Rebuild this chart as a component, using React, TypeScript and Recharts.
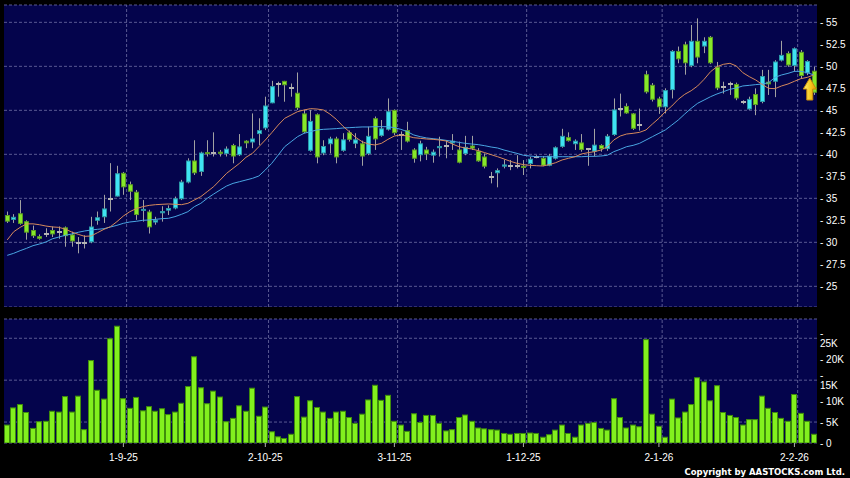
import React from 'react';
import {
  ComposedChart,
  Bar,
  Line,
  XAxis,
  YAxis,
  CartesianGrid,
  ReferenceLine,
  ReferenceDot,
} from 'recharts';

// daily candles, 6 Aug 2025 .. 5 Feb 2026
const opens = [
  33.1, 32.55, 33.3, 32.4, 31.4, 30.7, 31.0, 31.4, 31.2, 31.7,
  30.9, 29.9, 29.9, 30.0, 32.45, 32.85, 34.9, 35.2, 37.9, 36.6,
  35.75, 33.6, 33.5, 32.25, 33.3, 33.6, 33.85, 34.9, 36.8, 39.3,
  38.0, 40.25, 40.15, 40.3, 40.05, 41.05, 39.9, 41.55, 41.35, 42.3,
  42.95, 45.8, 48.0, 48.35, 47.5, 47.0, 44.65, 40.4, 44.55, 40.1,
  41.15, 41.8, 40.4, 42.5, 41.2, 41.25, 40.05, 44.1, 42.1, 42.8,
  45.05, 42.2, 42.75, 40.55, 39.9, 40.55, 39.85, 40.7, 41.0, 41.25,
  40.55, 40.05, 41.0, 40.4, 39.75, 37.4, 37.85, 38.6, 38.7, 38.7,
  38.7, 38.9, 39.7, 39.6, 38.7, 39.5, 40.85, 41.95, 41.15, 41.35,
  40.55, 40.3, 41.05, 40.6, 42.2, 45.1, 45.5, 44.65, 43.3, 49.1,
  47.9, 46.35, 45.35, 47.3, 51.75, 52.5, 50.05, 52.9, 52.25, 53.35,
  49.95, 47.6, 48.0, 48.0, 45.9, 45.1, 46.85, 45.95, 48.25, 48.25,
  50.65, 51.5, 50.05, 51.65, 49.2, 49.5,
];
const highs = [
  33.5, 33.2, 34.8, 32.5, 31.9, 30.9, 31.6, 31.8, 31.8, 31.8,
  31.2, 30.6, 30.8, 32.9, 33.5, 35.4, 39.0, 38.7, 38.0, 36.9,
  35.95, 34.8, 33.7, 32.9, 34.1, 34.2, 35.2, 37.1, 39.55, 41.6,
  40.3, 41.6, 42.5, 40.5, 40.9, 41.2, 42.3, 41.6, 44.65, 44.1,
  46.55, 48.35, 48.25, 48.35, 48.05, 49.3, 45.05, 45.05, 44.65, 41.6,
  42.0, 42.0, 42.4, 42.7, 42.4, 41.55, 43.15, 44.3, 43.9, 46.35,
  45.1, 42.6, 43.7, 40.7, 41.55, 40.85, 40.55, 42.0, 41.6, 42.3,
  41.45, 42.1, 42.1, 40.7, 40.1, 38.0, 38.4, 39.4, 39.35, 39.9,
  39.35, 39.7, 39.9, 39.8, 40.05, 40.9, 42.9, 42.5, 41.7, 42.3,
  40.7, 42.9, 41.15, 42.3, 46.35, 46.9, 45.8, 44.7, 45.2, 49.5,
  48.1, 46.55, 47.5, 51.85, 52.25, 52.8, 54.7, 55.45, 53.3, 53.45,
  50.5, 48.25, 48.25, 48.15, 46.15, 46.55, 47.5, 49.6, 49.6, 50.7,
  52.9, 51.7, 52.15, 51.85, 50.7, 49.95,
];
const lows = [
  32.2, 32.2, 32.0, 30.3, 30.5, 30.3, 30.6, 30.6, 30.4, 29.5,
  29.5, 28.75, 29.3, 29.9, 32.0, 32.2, 33.5, 35.2, 35.4, 34.8,
  32.55, 32.35, 31.0, 32.0, 32.35, 33.1, 33.75, 34.8, 36.7, 37.65,
  37.55, 39.75, 39.75, 39.75, 39.75, 38.98, 39.8, 40.7, 40.7, 41.05,
  42.75, 45.8, 46.55, 45.98, 46.55, 45.05, 42.4, 40.3, 38.98, 39.9,
  40.1, 38.98, 40.3, 41.45, 40.7, 38.7, 39.9, 40.5, 42.0, 42.7,
  42.2, 40.5, 41.35, 39.05, 39.2, 39.35, 39.05, 39.75, 39.55, 40.5,
  38.98, 39.9, 40.5, 39.15, 38.4, 36.7, 36.25, 38.4, 38.2, 38.4,
  37.65, 38.4, 39.55, 38.65, 38.65, 39.4, 40.75, 41.45, 40.5, 40.3,
  38.7, 39.75, 40.3, 40.4, 42.1, 44.3, 44.6, 42.77, 42.7, 46.9,
  46.0, 44.6, 44.65, 46.35, 50.35, 49.05, 49.9, 50.35, 51.5, 50.25,
  47.3, 46.9, 46.75, 46.15, 45.7, 45.05, 44.45, 45.8, 46.75, 46.5,
  50.55, 49.95, 49.4, 48.65, 49.0, 46.75,
];
const closes = [
  32.35, 32.9, 32.1, 31.1, 30.7, 30.4, 31.0, 30.9, 31.2, 30.7,
  30.1, 29.9, 29.9, 31.8, 32.85, 33.85, 34.9, 37.85, 36.25, 35.75,
  33.1, 33.8, 31.7, 32.55, 33.55, 33.9, 35.0, 36.9, 39.3, 37.85,
  40.2, 40.1, 40.15, 40.05, 40.65, 39.75, 40.9, 41.25, 41.8, 42.75,
  45.55, 47.75, 48.0, 47.85, 47.5, 45.25, 42.5, 43.8, 39.65, 40.95,
  41.8, 39.65, 41.7, 41.65, 41.7, 39.75, 42.1, 41.7, 42.95, 44.9,
  42.4, 42.2, 41.45, 39.5, 41.25, 40.0, 40.3, 40.95, 41.05, 41.55,
  39.05, 40.85, 40.65, 39.2, 38.6, 37.4, 38.2, 38.85, 38.7, 38.75,
  38.45, 39.5, 39.7, 38.7, 39.85, 40.8, 42.1, 41.5, 41.55, 40.5,
  40.55, 41.1, 40.6, 42.1, 45.1, 45.1, 44.65, 42.9, 43.3, 47.05,
  46.2, 45.35, 47.3, 51.75, 50.8, 50.35, 52.9, 51.0, 52.9, 50.35,
  47.5, 47.6, 48.0, 46.35, 45.9, 46.3, 45.6, 48.9, 47.95, 50.55,
  51.3, 50.1, 52.05, 48.9, 50.6, 47.0,
];
// orange (short) and blue (long) moving averages
const maShort = [
  30.27, 31.2, 31.7, 32.1, 32.1, 32.0, 31.85, 31.75, 31.7, 31.5,
  31.17, 30.91, 30.68, 30.72, 31.1, 31.48, 31.78, 32.35, 32.99, 33.48,
  33.83, 34.05, 34.2, 34.28, 34.32, 34.36, 34.32, 34.28, 34.43, 34.81,
  35.19, 35.76, 36.33, 37.08, 37.84, 38.41, 38.98, 39.66, 40.11, 40.87,
  41.63, 42.46, 43.33, 44.09, 44.47, 44.85, 45.04, 45.19, 45.15, 45.04,
  44.58, 43.98, 43.22, 42.58, 41.93, 41.44, 41.17, 41.06, 41.25, 41.7,
  42.08, 42.2, 42.08, 41.89, 41.82, 41.74, 41.7, 41.63, 41.52, 41.17,
  40.87, 40.72, 40.61, 40.42, 40.19, 39.96, 39.73, 39.47, 39.2, 38.98,
  38.83, 38.75, 38.71, 38.67, 38.83, 39.05, 39.36, 39.55, 39.73, 40.04,
  40.19, 40.3, 40.49, 40.87, 41.63, 42.08, 42.31, 42.39, 42.5, 42.77,
  43.45, 44.09, 44.85, 45.49, 46.25, 46.82, 47.23, 47.77, 48.52, 49.39,
  49.96, 50.23, 50.34, 50.04, 49.28, 48.83, 48.45, 47.95, 47.5, 47.46,
  47.77, 47.99, 48.3, 48.6, 48.75, 49.02,
];
const maLong = [
  28.52, 28.75, 29.05, 29.32, 29.62, 29.81, 30.04, 30.4, 30.6, 30.8,
  30.95, 31.14, 31.29, 31.4, 31.48, 31.55, 31.74, 31.93, 32.16, 32.31,
  32.39, 32.5, 32.54, 32.61, 32.69, 32.73, 32.92, 33.18, 33.48, 34.05,
  34.43, 35.0, 35.49, 35.95, 36.4, 36.7, 36.89, 37.08, 37.27, 37.54,
  38.22, 38.98, 39.92, 40.87, 41.44, 42.01, 42.39, 42.58, 42.77, 42.84,
  42.88, 42.92, 42.99, 43.03, 43.07, 43.11, 43.11, 43.14, 43.14, 43.14,
  43.03, 42.84, 42.58, 42.2, 42.01, 41.86, 41.78, 41.7, 41.59, 41.48,
  41.36, 41.25, 41.17, 41.1, 40.98, 40.83, 40.72, 40.49, 40.3, 40.11,
  39.89, 39.81, 39.73, 39.73, 39.73, 39.73, 39.73, 39.73, 39.73, 39.73,
  39.77, 39.77, 39.81, 39.89, 40.3, 40.57, 40.87, 41.02, 41.25, 41.63,
  42.01, 42.39, 42.77, 43.33, 43.9, 44.58, 45.23, 45.8, 46.17, 46.55,
  46.86, 47.12, 47.39, 47.54, 47.77, 47.84, 47.92, 47.99, 48.14, 48.75,
  49.02, 49.2, 49.43, 49.43, 49.28, 49.02,
];
// volume in thousands
const volumesK = [
  4.4, 8.5, 9.3, 7.4, 3.6, 5.2, 5.3, 7.7, 7.5, 11.2,
  7.5, 11.3, 3.3, 19.8, 12.7, 10.6, 25.0, 28.0, 10.7, 8.4,
  11.0, 7.8, 8.8, 7.7, 8.3, 6.9, 7.5, 9.6, 13.6, 20.7,
  13.3, 9.5, 12.5, 11.1, 5.2, 6.0, 9.0, 7.7, 13.2, 6.5,
  8.7, 2.8, 1.6, 1.2, 2.2, 11.2, 6.3, 10.2, 8.6, 7.5,
  6.0, 7.5, 7.7, 6.2, 4.8, 7.0, 10.4, 13.9, 10.3, 11.5,
  5.3, 4.4, 2.9, 7.1, 5.0, 6.7, 6.7, 4.8, 3.0, 3.3,
  6.2, 6.8, 5.3, 3.7, 3.5, 3.3, 3.2, 2.4, 2.2, 2.4,
  2.4, 2.5, 2.4, 1.5, 2.1, 3.2, 4.4, 2.4, 1.5, 4.4,
  4.8, 5.0, 3.6, 3.2, 10.7, 6.2, 3.7, 4.4, 4.0, 24.8,
  7.0, 4.1, 1.5, 10.6, 6.1, 7.5, 9.3, 15.7, 14.7, 10.2,
  13.8, 7.4, 6.7, 6.2, 4.4, 5.7, 5.7, 11.3, 8.4, 7.4,
  6.0, 5.3, 11.7, 7.2, 5.3, 2.2,
];

const dateTickIndex = [18, 40, 60, 80, 101, 122];
const dateTickLabels = ['1-9-25', '2-10-25', '3-11-25', '1-12-25', '2-1-26', '2-2-26'];
const priceTicks = [25, 27.5, 30, 32.5, 35, 37.5, 40, 42.5, 45, 47.5, 50, 52.5, 55];
const volumeTicks = [0, 5, 10, 15, 20, 25];
const lastPrice = 47.42;

const PANEL_BG = '#04044c';
const GRID = '#5a5a92';
const UP = '#3fe3f3';
const DOWN = '#86e82a';
const WICK = '#a2a2a2';
const VOL = '#82f01e';
const FONT = '"Liberation Sans", Arial, sans-serif';

const rows = opens.map((open, i) => ({
  i,
  open,
  high: highs[i],
  low: lows[i],
  close: closes[i],
  maShort: maShort[i],
  maLong: maLong[i],
  volume: volumesK[i],
}));

function Candle(props: any) {
  const { x, y, width, height, payload } = props;
  if (!payload) return null;
  const { open, close, high, low } = payload;
  const top = height < 0 ? y + height : y;
  const span = Math.abs(height);
  const k = span / (high - low);
  const py = (v: number) => top + (high - v) * k;
  const left = Math.round(x + width / 2 - 2.5);
  const mid = left + 2.5;
  const diff = close - open;
  const wick = (
    <line x1={mid} x2={mid} y1={top} y2={top + span} stroke={WICK} strokeWidth={1} />
  );
  if (Math.abs(diff) < 0.08) {
    const yy = Math.round(py(open));
    return (
      <g>
        {wick}
        <rect x={left} y={yy - 1} width={5} height={2} fill="#b4b4b4" />
      </g>
    );
  }
  const bTop = py(Math.max(open, close));
  const bBot = py(Math.min(open, close));
  const up = diff > 0;
  return (
    <g>
      {wick}
      <rect
        x={left + 0.5}
        y={bTop + 0.5}
        width={4}
        height={Math.max(bBot - bTop - 1, 1)}
        fill={up ? UP : DOWN}
        stroke={up ? '#2b98a6' : '#5b9a22'}
        strokeWidth={1}
      />
    </g>
  );
}

function VolBar(props: any) {
  const { x, y, width, height } = props;
  if (!height) return null;
  const left = Math.round(x + width / 2 - 3);
  return (
    <rect
      x={left + 0.5}
      y={y + 0.5}
      width={5}
      height={Math.max(height - 0.5, 0)}
      fill={VOL}
      stroke="#3f8c0c"
      strokeWidth={1}
    />
  );
}

function UpArrow(props: any) {
  const { cx, cy } = props;
  const x = cx - 4;
  const d = `M${x} ${cy - 11} L${x + 6.5} ${cy} L${x + 3} ${cy} L${x + 3} ${cy + 11} L${x - 3} ${cy + 11} L${x - 3} ${cy} L${x - 6.5} ${cy} Z`;
  return <path d={d} fill="url(#arrowFill)" stroke="#c98a08" strokeWidth={1} />;
}

const tickStyle = { fill: '#ffffff', fontSize: 10, fontFamily: FONT };

export default function App() {
  return (
    <div
      style={{
        position: 'absolute',
        left: 0,
        top: 0,
        width: 850,
        height: 478,
        background: '#000',
        overflow: 'hidden',
      }}
    >
      <div style={{ position: 'absolute', left: 0, top: 0 }}>
        <ComposedChart
          width={850}
          height={307}
          data={rows}
          margin={{ top: 5, right: 0, bottom: 0, left: 4 }}
        >
          <defs>
            <linearGradient id="arrowFill" x1="0" y1="0" x2="1" y2="0">
              <stop offset="0%" stopColor="#fff27a" />
              <stop offset="55%" stopColor="#f6c81c" />
              <stop offset="100%" stopColor="#e09a0c" />
            </linearGradient>
          </defs>
          <CartesianGrid
            vertical={false}
            stroke={GRID}
            strokeDasharray="3 2"
            fill={PANEL_BG}
            fillOpacity={1}
          />
          <XAxis dataKey="i" type="category" hide />
          <YAxis
            orientation="right"
            width={33}
            domain={[22.65, 56.97]}
            allowDataOverflow
            ticks={priceTicks}
            tickFormatter={(v: number) => `- ${v}`}
            tick={tickStyle}
            tickLine={false}
            axisLine={false}
            tickSize={0}
            tickMargin={3}
          />
          {dateTickIndex.map((idx) => (
            <ReferenceLine
              key={idx}
              x={idx}
              position="end"
              stroke={GRID}
              strokeDasharray="3 2"
            />
          ))}
          <Line
            dataKey="maLong"
            stroke="#4aa6e2"
            strokeWidth={1}
            dot={false}
            isAnimationActive={false}
          />
          <Line
            dataKey="maShort"
            stroke="#d68a5c"
            strokeWidth={1}
            dot={false}
            isAnimationActive={false}
          />
          <Bar
            dataKey={(d: any) => [d.low, d.high]}
            barSize={5}
            shape={(p: any) => <Candle {...p} />}
            isAnimationActive={false}
          />
          <ReferenceDot x={125} y={lastPrice} r={6} shape={(p: any) => <UpArrow {...p} />} />
        </ComposedChart>
      </div>

      <div style={{ position: 'absolute', left: 0, top: 314 }}>
        <ComposedChart
          width={850}
          height={160}
          data={rows}
          margin={{ top: 5, right: 0, bottom: 0, left: 4 }}
        >
          <CartesianGrid
            vertical={false}
            stroke={GRID}
            strokeDasharray="3 2"
            fill={PANEL_BG}
            fillOpacity={1}
          />
          <XAxis
            dataKey="i"
            type="category"
            height={31}
            ticks={dateTickIndex}
            interval={0}
            tickFormatter={(v: number) => dateTickLabels[dateTickIndex.indexOf(v)]}
            tick={tickStyle}
            tickLine={{ stroke: '#b0b0b0' }}
            tickSize={4}
            tickMargin={7}
            axisLine={false}
          />
          <YAxis
            orientation="right"
            width={33}
            domain={[0, 29.6]}
            allowDataOverflow
            ticks={volumeTicks}
            tickFormatter={(v: number) => (v === 0 ? '- 0' : `- ${v}K`)}
            tick={tickStyle}
            tickLine={false}
            axisLine={false}
            tickSize={0}
            tickMargin={3}
          />
          {dateTickIndex.map((idx) => (
            <ReferenceLine
              key={idx}
              x={idx}
              position="end"
              stroke={GRID}
              strokeDasharray="3 2"
            />
          ))}
          <Bar
            dataKey="volume"
            barSize={6}
            shape={(p: any) => <VolBar {...p} />}
            isAnimationActive={false}
          />
        </ComposedChart>
      </div>

      <svg
        width={850}
        height={478}
        style={{ position: 'absolute', left: 0, top: 0, pointerEvents: 'none' }}
      >
        <text
          x={845}
          y={474.5}
          textAnchor="end"
          fill="#ffffff"
          fontFamily='"DejaVu Sans", sans-serif'
          fontWeight="bold"
          fontSize={8.5}
        >
          Copyright by AASTOCKS.com Ltd.
        </text>
      </svg>
    </div>
  );
}
